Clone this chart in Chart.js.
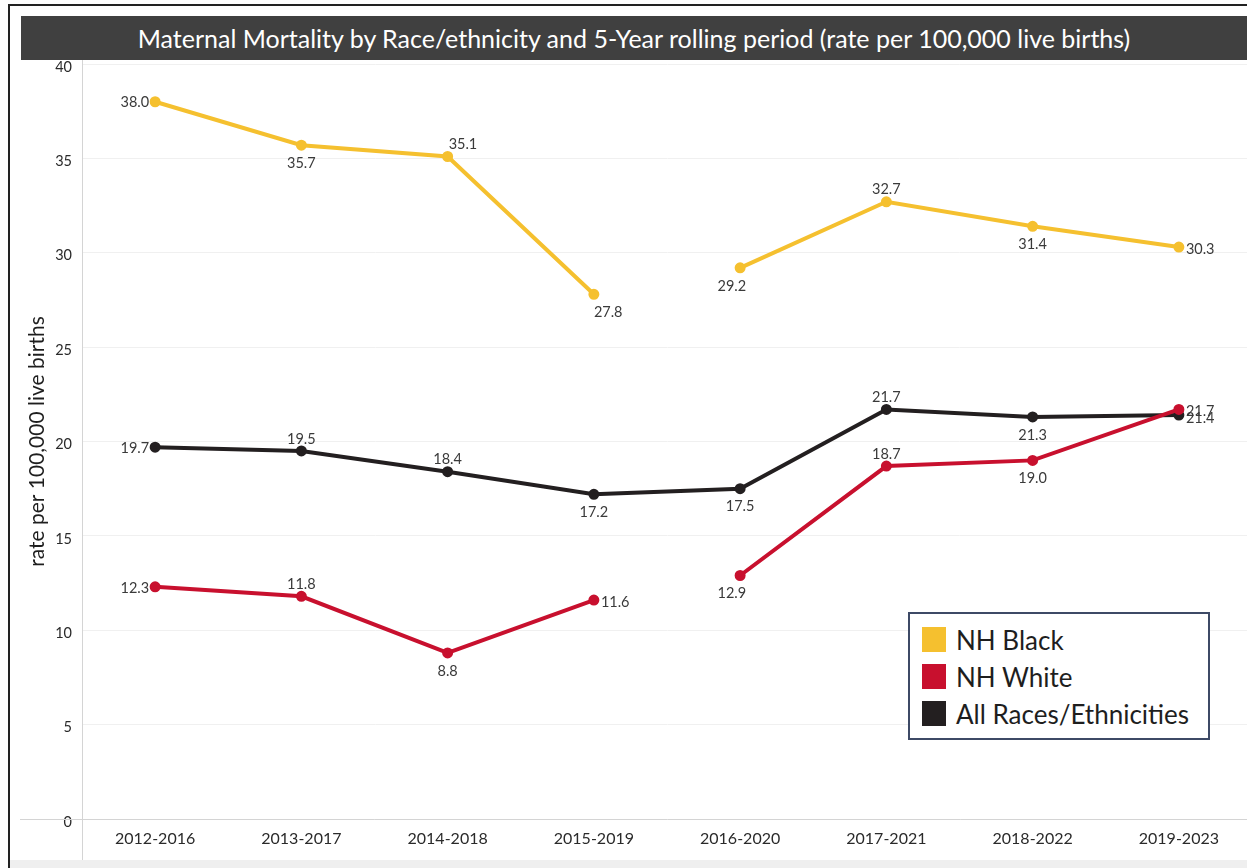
<!DOCTYPE html>
<html>
<head>
<meta charset="utf-8">
<script src="https://cdn.jsdelivr.net/npm/chart.js@4.4.1/dist/chart.umd.min.js"></script>
<style>
  html, body { margin: 0; padding: 0; background: #fff; }
  #wrap { position: relative; width: 1247px; height: 868px; overflow: hidden; background: #fff; font-family: Lato, "Open Sans", sans-serif; }
  #frameTop { position: absolute; left: 8px; top: 4px; right: 0; height: 0; border-top: 2px solid #222; }
  #frameLeft { position: absolute; left: 8px; top: 4px; width: 0; bottom: 0; border-left: 2px solid #222; }
  #bottomStrip { position: absolute; left: 10px; right: 0; top: 860px; bottom: 0; background: #efefef; }
  #titleBar { position: absolute; left: 21px; top: 16px; width: 1226px; height: 44px; background: #404040; color: #fff;
              font-size: 25px; line-height: 44px; text-align: center; z-index: 2; white-space: nowrap; }
  canvas { position: absolute; left: 0; top: 0; }
  #legend { position: absolute; left: 908px; top: 612px; width: 302px; height: 128px; border: 2px solid #3d4a66; background: #fff;
            box-sizing: border-box; padding-top: 7px; z-index: 3; }
  .li { height: 37px; display: flex; align-items: center; padding-left: 12px; font-size: 26px; color: #1e1e1e; white-space: nowrap; }
  .sw { width: 24px; height: 25px; margin-right: 10px; flex: none; }
</style>
</head>
<body>
<div id="wrap">
  <div id="frameTop"></div>
  <div id="frameLeft"></div>
  <div id="bottomStrip"></div>
  <div id="titleBar"><span>Maternal Mortality by Race/ethnicity and 5-Year rolling period (rate per 100,000 live births)</span></div>
  <canvas id="c" width="1260" height="868" style="width:1260px;height:868px"></canvas>
  <div id="legend"></div>
</div>
<script>
// ---- data ----
const periods = ['2012-2016','2013-2017','2014-2018','2015-2019','2016-2020','2017-2021','2018-2022','2019-2023'];
const nhBlack = [38.0, 35.7, 35.1, 27.8, 29.2, 32.7, 31.4, 30.3];
const nhWhite = [12.3, 11.8, 8.8, 11.6, 12.9, 18.7, 19.0, 21.7];
const allRaces = [19.7, 19.5, 18.4, 17.2, 17.5, 21.7, 21.3, 21.4];
const yTicks = [0, 5, 10, 15, 20, 25, 30, 35, 40];

// ---- label placement (style only) ----
const placeBlack = ['left','below','aboveRight','belowRight','belowLeft','above','below','right'];
const placeWhite = ['left','above','below','right','belowLeft','above','below','right'];
const placeAll   = ['left','above','above','below','below','above','below','rightLow'];

const YELLOW = '#f5c02f', RED = '#c8102e', BLACK = '#231f20';
const FONT = 'Lato, "Open Sans", sans-serif';

const gapAfter3 = { borderColor: ctx => ctx.p0DataIndex === 3 ? 'rgba(0,0,0,0)' : undefined };

const labelPlugin = {
  id: 'pointLabels',
  afterDatasetsDraw(chart) {
    const ctx = chart.ctx;
    ctx.save();
    ctx.font = '14.5px ' + FONT;
    ctx.fillStyle = '#3a3a3a';
    ctx.textBaseline = 'middle';
    chart.data.datasets.forEach((ds, di) => {
      const meta = chart.getDatasetMeta(di);
      meta.data.forEach((pt, i) => {
        const v = ds.data[i];
        if (v == null) return;
        const txt = v.toFixed(1);
        const p = ds.placement[i];
        let x = pt.x, y = pt.y, align = 'center';
        if (p === 'left') { align = 'right'; x -= 6; y += 1; }
        else if (p === 'below') { y += 18; }
        else if (p === 'above') { y -= 12; }
        else if (p === 'aboveRight') { align = 'left'; x += 1; y -= 12; }
        else if (p === 'belowRight') { align = 'left'; y += 18; }
        else if (p === 'belowLeft') { align = 'right'; x += 6; y += 18; }
        else if (p === 'right') { align = 'left'; x += 7; y += 2; }
        else if (p === 'rightLow') { align = 'left'; x += 7; y += 3; }
        ctx.textAlign = align;
        ctx.fillText(txt, x, y);
      });
    });
    ctx.restore();
  }
};

const axisExt = {
  id: 'axisExt',
  afterDraw(chart) {
    const ctx = chart.ctx, a = chart.chartArea;
    const y0 = chart.scales.y.getPixelForValue(0);
    ctx.save();
    ctx.strokeStyle = '#d4d4d4';
    ctx.lineWidth = 1;
    ctx.beginPath();
    ctx.moveTo(20, Math.round(y0) + 0.5); ctx.lineTo(a.left, Math.round(y0) + 0.5);
    ctx.moveTo(Math.round(a.left) + 0.5, a.bottom); ctx.lineTo(Math.round(a.left) + 0.5, 860);
    ctx.moveTo(Math.round(a.left) + 0.5, a.top); ctx.lineTo(Math.round(a.left) + 0.5, 60);
    ctx.stroke();
    ctx.restore();
  }
};

const chart = new Chart(document.getElementById('c'), {
  type: 'line',
  data: {
    labels: periods,
    datasets: [
      { label: 'NH Black', data: nhBlack, borderColor: YELLOW, backgroundColor: YELLOW, pointBackgroundColor: YELLOW,
        pointBorderColor: YELLOW, borderWidth: 4, pointRadius: 3.5, segment: gapAfter3, placement: placeBlack },
      { label: 'NH White', data: nhWhite, borderColor: RED, backgroundColor: RED, pointBackgroundColor: RED,
        pointBorderColor: RED, borderWidth: 4, pointRadius: 3.5, segment: gapAfter3, placement: placeWhite },
      { label: 'All Races/Ethnicities', data: allRaces, borderColor: BLACK, backgroundColor: BLACK, pointBackgroundColor: BLACK,
        pointBorderColor: BLACK, borderWidth: 4, pointRadius: 3.5, placement: placeAll }
    ]
  },
  options: {
    responsive: false,
    animation: false,
    layout: { padding: { top: 64, left: 0, right: 2, bottom: 0 } },
    plugins: { legend: { display: false }, title: { display: false }, tooltip: { enabled: false } },
    elements: { line: { tension: 0 } },
    scales: {
      x: {
        type: 'category',
        offset: true,
        grid: { display: false, drawTicks: false },
        border: { display: true, color: '#d4d4d4' },
        ticks: { color: '#2a2a2a', font: { family: FONT, size: 16 }, padding: 10, maxRotation: 0 },
        afterFit(s) { s.height = 49; }
      },
      y: {
        min: 0, max: 40,
        afterBuildTicks(s) { s.ticks = yTicks.map(v => ({ value: v })); },
        grid: { color: '#f0f0f0', drawTicks: false },
        border: { display: true, color: '#d4d4d4' },
        ticks: { color: '#2a2a2a', font: { family: FONT, size: 14.5 }, padding: 10, labelOffset: 3 },
        title: { display: true, text: 'rate per 100,000 live births', color: '#1e1e1e',
                 font: { family: FONT, size: 21 }, padding: { top: 25, bottom: 0 } },
        afterFit(s) { s.width = 82; }
      }
    }
  },
  plugins: [labelPlugin, axisExt]
});

// HTML legend built from the chart's datasets
const lg = document.getElementById('legend');
chart.data.datasets.forEach(ds => {
  const row = document.createElement('div');
  row.className = 'li';
  const sw = document.createElement('div');
  sw.className = 'sw';
  sw.style.background = ds.borderColor;
  const t = document.createElement('span');
  t.textContent = ds.label;
  row.appendChild(sw); row.appendChild(t);
  lg.appendChild(row);
});
</script>
</body>
</html>
